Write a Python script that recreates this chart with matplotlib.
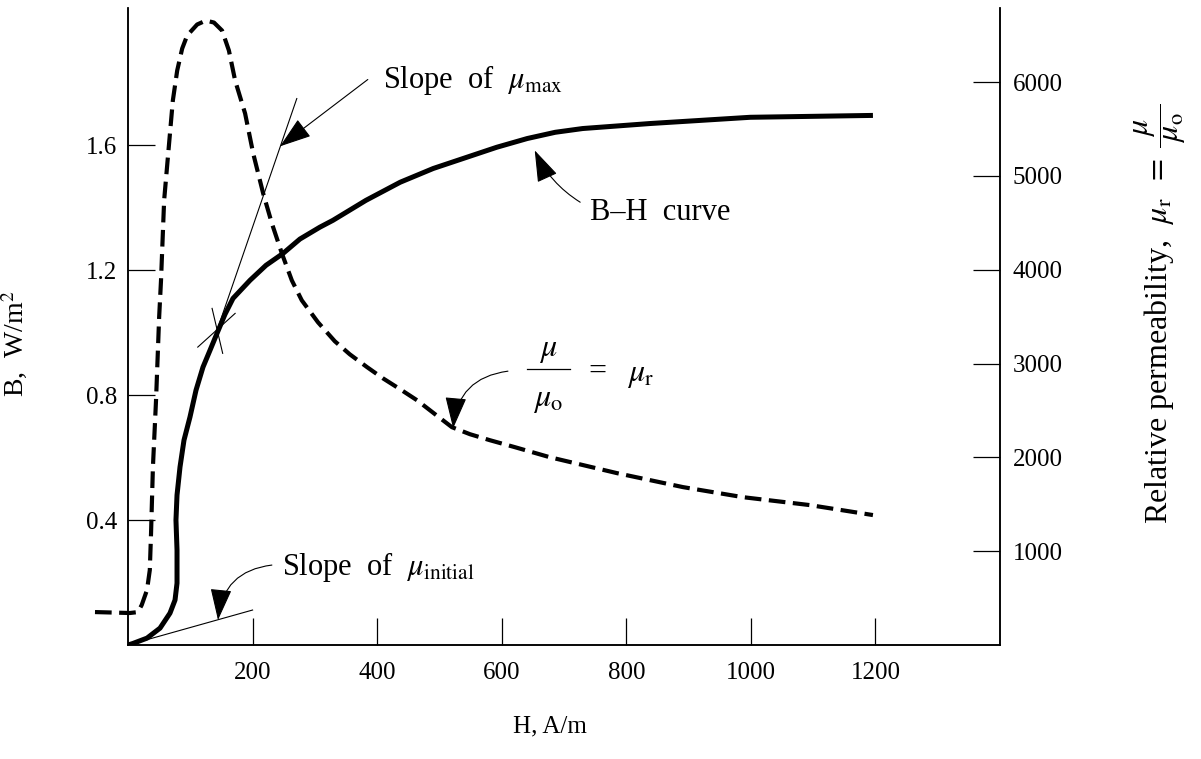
import matplotlib
matplotlib.use('Agg')
from matplotlib import pyplot as plt

plt.rcParams['font.family'] = ['Liberation Serif', 'DejaVu Serif']
plt.rcParams['mathtext.fontset'] = 'stix'

# B-H curve (left axis)
h_bh = [0, 8, 30.5, 51.4, 67.4, 75.5, 78.7, 78.7, 77, 78.7, 83.5, 89.9, 99.5,
        109.2, 120.4, 131.7, 142.9, 155.7, 168.6, 195.9, 221.6, 248.9, 276,
        308, 329, 382, 437, 490, 544, 592, 641, 686, 730, 838, 999, 1196]
b_bh = [0, 0.005, 0.022, 0.054, 0.102, 0.144, 0.198, 0.304, 0.40, 0.48, 0.57,
        0.656, 0.73, 0.816, 0.89, 0.944, 0.998, 1.059, 1.11, 1.168, 1.216,
        1.254, 1.30, 1.338, 1.36, 1.424, 1.482, 1.526, 1.562, 1.594, 1.622,
        1.642, 1.654, 1.670, 1.690, 1.696]

# relative permeability curve (right axis)
h_mu = [-53, 3, 16, 22, 30.5, 35, 37, 40, 45, 50, 53, 58, 64, 72, 79, 87, 95,
        111, 125, 138, 151, 162, 172, 188, 201, 217, 231, 247, 263, 279, 305,
        332, 356, 384, 409, 437, 464, 493, 520, 549, 581, 621, 677, 785, 891,
        987, 1095, 1196]
mu_r = [351, 341, 351, 426, 586, 799, 1193, 1896, 2609, 3493, 3887, 4739, 5197,
        5804, 6124, 6358, 6497, 6614, 6656, 6635, 6550, 6337, 6017, 5666, 5240,
        4814, 4494, 4175, 3887, 3674, 3440, 3238, 3099, 2961, 2844, 2726, 2609,
        2460, 2322, 2247, 2183, 2109, 2002, 1832, 1683, 1576, 1491, 1385]

# construction lines
tan_h, tan_b = [143, 271], [1.008, 1.75]
xa_h, xa_b = [112, 172], [0.954, 1.062]
xb_h, xb_b = [135, 152], [1.078, 0.934]
init_h, init_b = [0, 200], [0, 0.112]

x_ticks = [200, 400, 600, 800, 1000, 1200]
b_ticks = [0.4, 0.8, 1.2, 1.6]
mu_ticks = [1000, 2000, 3000, 4000, 5000, 6000]

fig = plt.figure(figsize=(12.01, 7.59), dpi=100)
ax = fig.add_axes([128 / 1201, 114 / 759, 872 / 1201, 637 / 759])
ax2 = ax.twinx()

ax.plot(h_bh, b_bh, c='black', lw=3.6, solid_capstyle='butt', solid_joinstyle='round')
ax2.plot(h_mu, mu_r, c='black', lw=3.0, dashes=(4, 1.8), clip_on=False)

for hh, bb in [(tan_h, tan_b), (xa_h, xa_b), (xb_h, xb_b), (init_h, init_b)]:
    ax.plot(hh, bb, c='black', lw=0.8)

ax.set_xlim(0, 1400)
ax.set_ylim(0, 2.04)
ax2.set_ylim(0, 6790)

ax.set_xticks(x_ticks)
ax.set_yticks(b_ticks)
ax.set_yticklabels(['0.4', '0.8', '1.2', '1.6'])
ax2.set_yticks(mu_ticks)

for a in (ax, ax2):
    a.spines['top'].set_visible(False)
    for s in a.spines.values():
        s.set_linewidth(1.1)
    a.tick_params(direction='in', length=19.5, width=0.9, labelsize=18)
ax.tick_params(axis='x', pad=12)
ax.tick_params(axis='y', pad=8)
ax2.tick_params(axis='y', pad=9)

ax.set_xlabel('H, A/m', fontsize=18)
ax.xaxis.set_label_coords(0.484, -0.11)
ax.set_ylabel('B,  W/m$^2$', fontsize=20)
ax.yaxis.set_label_coords(-0.112, 0.4725)

# right axis title
fig.text(1160 / 1201, 1 - 314 / 759,
         r'Relative permeability,  $\mu_{\rm r}\;\;=\;\dfrac{\;\mu\;}{\;\mu_{\rm o}\;}$',
         rotation=90, fontsize=23, ha='center', va='center')

arrow = dict(arrowstyle='-|>,head_length=1.0,head_width=0.34', mutation_scale=20,
             color='black', lw=0.8, shrinkA=0, shrinkB=0)

ax.annotate('', xy=(244, 1.597), xytext=(385, 1.811),
            arrowprops=dict(arrow, connectionstyle='arc3,rad=0'))
ax.text(409, 1.808, r'Slope  of  $\mu_{\rm max}$', fontsize=22, va='center')

ax.annotate('', xy=(653, 1.584), xytext=(726, 1.418),
            arrowprops=dict(arrow, connectionstyle='arc3,rad=-0.15'))
ax.text(742, 1.386, 'B\u2013H  curve', fontsize=22, va='center')

# mu / mu_o = mu_r label, built from pieces
ax.annotate('', xy=(522, 0.694), xytext=(610, 0.877),
            arrowprops=dict(arrow, connectionstyle='arc3,rad=0.4'))
ax.text(674, 0.944, r'$\mu$', fontsize=23, ha='center', va='center')
ax.plot([641, 710], [0.883, 0.883], c='black', lw=0.9)
ax.text(674, 0.784, r'$\mu_{\rm o}$', fontsize=23, ha='center', va='center')
ax.text(753, 0.874, '=', fontsize=23, ha='center', va='center')
ax.text(801, 0.864, r'$\mu_{\rm r}$', fontsize=23, ha='left', va='center')

ax.annotate('', xy=(144.5, 0.08), xytext=(231, 0.256),
            arrowprops=dict(arrow, connectionstyle='arc3,rad=0.4'))
ax.text(247, 0.25, r'Slope  of  $\mu_{\rm initial}$', fontsize=22, va='center')

plt.savefig('out.png', dpi=100)
